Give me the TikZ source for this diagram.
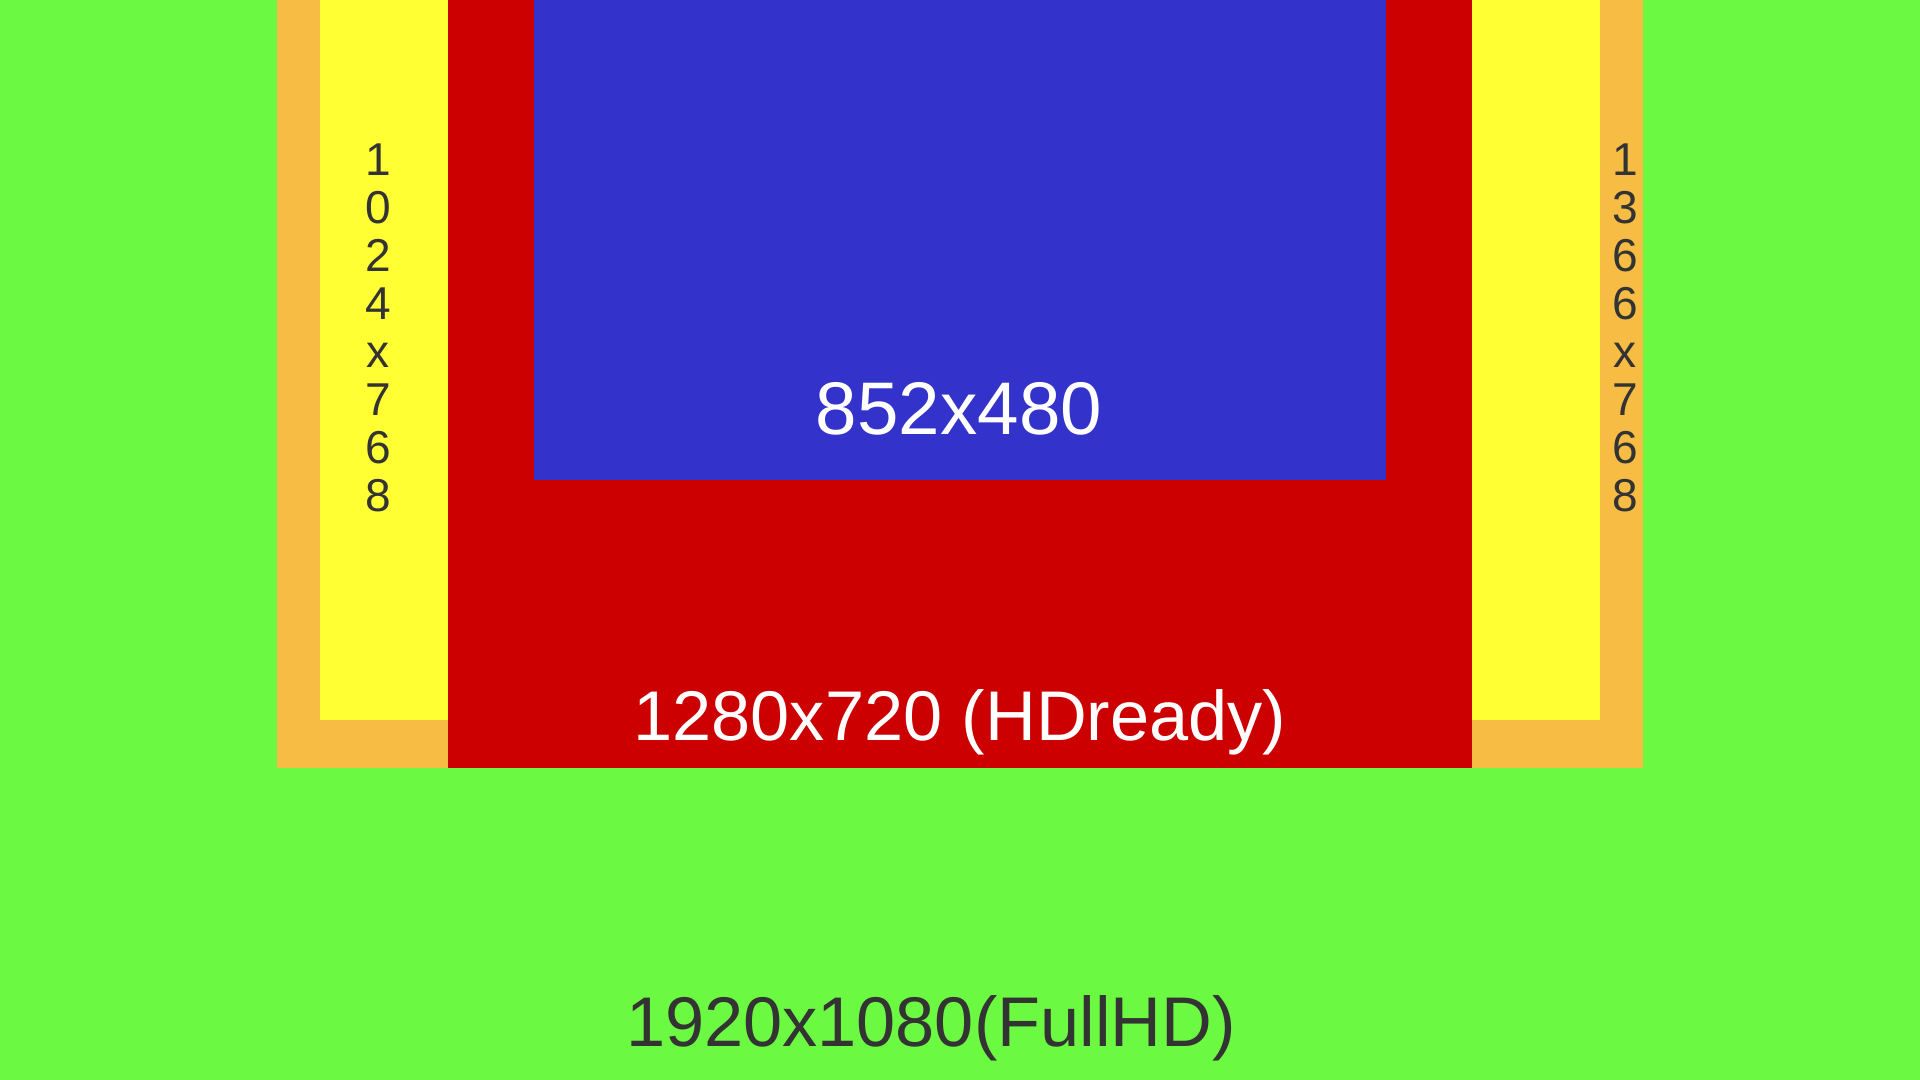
\documentclass[tikz,border=0pt]{standalone}
\usepackage{fontspec}
\setmainfont{Liberation Sans}
\definecolor{bggreen}{RGB}{108,249,66}
\definecolor{orangeR}{RGB}{247,188,67}
\definecolor{yellowR}{RGB}{255,255,51}
\definecolor{redR}{RGB}{204,0,0}
\definecolor{blueR}{RGB}{51,51,204}
\definecolor{darktext}{RGB}{51,51,51}
\begin{document}
\begin{tikzpicture}[x=0.01cm,y=-0.01cm,
  biglabel/.style={inner sep=0pt,anchor=base,font=\fontsize{20}{24}\selectfont},
  vlabel/.style={inner sep=0pt,align=center,text=darktext,font=\fontsize{13.1}{13.66}\selectfont}]
\useasboundingbox (0,0) rectangle (1920,1080);
\fill[bggreen] (0,0) rectangle (1920,1080);
\fill[orangeR] (277,0) rectangle (1643,768);
\fill[yellowR] (320,0) rectangle (1600,720);
\fill[redR] (448,0) rectangle (1472,768);
\fill[blueR] (534,0) rectangle (1386,480);
\node[biglabel,text=white,font=\fontsize{21.2}{25}\selectfont] (sd) at (959,435) {852x480};
\node[biglabel,text=white] (hd) at (960,741) {1280x720 (HDready)};
\node[biglabel,text=darktext] (fhd) at (931,1047) {1920x1080(FullHD)};
\node[vlabel] (xga) at (378,328) {1\\0\\2\\4\\x\\7\\6\\8};
\node[vlabel] (wxga) at (1625,328) {1\\3\\6\\6\\x\\7\\6\\8};
\end{tikzpicture}
\end{document}
